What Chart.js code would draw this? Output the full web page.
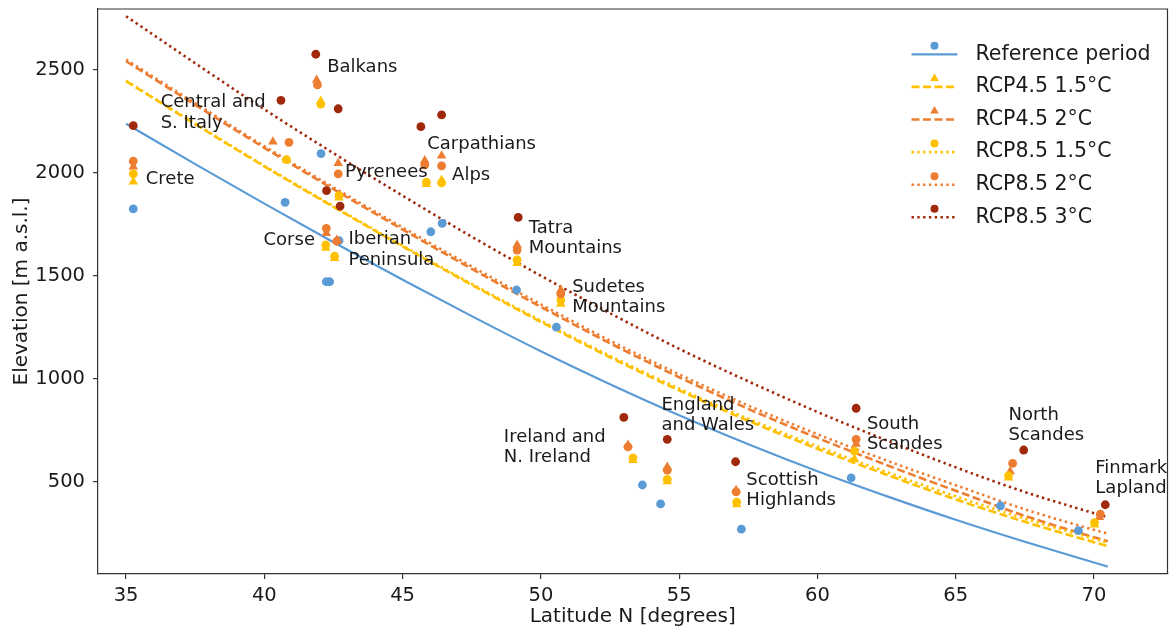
<!DOCTYPE html>
<html><head><meta charset="utf-8">
<script src="https://cdn.jsdelivr.net/npm/chart.js@4.4.0/dist/chart.umd.min.js"></script>
<style>html,body{margin:0;padding:0;background:#fff;}</style>
</head><body>
<canvas id="c" width="1173" height="632"></canvas>
<script>
// ---------------- DATA ----------------
const seriesNames = ['Reference period','RCP4.5 1.5°C','RCP4.5 2°C','RCP8.5 1.5°C','RCP8.5 2°C','RCP8.5 3°C'];
const regions = ['Crete','Central and S. Italy','Balkans','Pyrenees','Corse','Iberian Peninsula','Alps','Carpathians',
  'Tatra Mountains','Sudetes Mountains','Ireland and N. Ireland','England and Wales','Scottish Highlands',
  'South Scandes','North Scandes','Finmark Lapland'];

// region points (latitude, elevation) per series
const latRef    = [35.26,40.75,42.05,42.70,42.24,42.36,46.43,46.02,49.12,50.56,53.67,54.33,57.25,61.22,66.62,69.44];
const elevRef   = [1825,1857,2094,1671,1471,1471,1755,1714,1431,1250,483,391,268,518,382,261];
const lat45_15  = [35.26,40.80,42.04,42.70,42.22,42.54,46.41,45.86,49.14,50.72,53.33,54.57,57.08,61.34,66.91,70.02];
const elev45_15 = [1957,2063,2350,1880,1635,1585,1965,1945,1561,1363,603,500,388,608,518,290];
const lat45_20  = [35.26,40.31,41.89,42.67,42.24,42.62,46.41,45.80,49.14,50.72,53.15,54.57,57.06,61.40,66.97,70.20];
const elev45_20 = [2030,2152,2452,2047,1707,1674,2083,2060,1650,1431,677,570,458,682,548,326];
const lat85_15  = [35.26,40.80,42.04,42.70,42.22,42.54,46.41,45.86,49.14,50.72,53.33,54.57,57.08,61.34,66.91,70.02];
const elev85_15 = [1995,2065,2335,1890,1650,1595,1952,1955,1577,1382,615,510,400,648,528,300];
const lat85_20  = [35.26,40.89,41.92,42.67,42.24,42.62,46.41,45.80,49.14,50.72,53.15,54.57,57.06,61.40,67.06,70.23];
const elev85_20 = [2057,2149,2428,1995,1731,1668,2034,2039,1625,1412,668,555,450,705,588,341];
const lat85_30  = [35.26,40.60,41.86,42.67,42.25,42.74,46.41,45.66,49.18,50.72,53.00,54.57,57.04,61.40,67.46,70.41];
const elev85_30 = [2230,2353,2577,2312,1914,1839,2282,2225,1784,null,812,705,596,856,653,387];

// fitted curves
const fitLat   = [35,37.5,40,42.5,45,47.5,50,52.5,55,57.5,60,62.5,65,67.5,70,70.5];
const fitRef   = [2239,2043,1851,1663,1481,1304,1133,973,822,681,550,429,314,207,106,86];
const fit45_15 = [2446,2237,2032,1835,1643,1456,1276,1104,943,795,659,533,413,304,205,186];
const fit45_20 = [2543,2331,2122,1921,1725,1534,1349,1172,1007,853,712,580,455,333,229,210];
const fit85_15 = [2448,2240,2035,1838,1647,1461,1282,1111,952,805,671,546,428,320,222,203];
const fit85_20 = [2551,2339,2130,1930,1735,1545,1361,1185,1021,869,730,602,482,365,265,247];
const fit85_30 = [2762,2533,2309,2096,1889,1690,1500,1318,1145,987,838,700,569,449,346,326];

const xTicks = [35,40,45,50,55,60,65,70];
const yTicks = [500,1000,1500,2000,2500];

// region label text (lines)
const regionLabelLines = [['Crete'],['Central and','S. Italy'],['Balkans'],['Pyrenees'],['Corse'],['Iberian','Peninsula'],
  ['Alps'],['Carpathians'],['Tatra','Mountains'],['Sudetes','Mountains'],['Ireland and','N. Ireland'],['England','and Wales'],
  ['Scottish','Highlands'],['South','Scandes'],['North','Scandes'],['Finmark','Lapland']];
// label anchors (data coords of first line, left edge)
const labelAnchorLat  = [35.71,36.25,42.27,42.92,39.97,43.04,46.79,45.89,49.56,51.13,48.66,54.36,57.43,61.79,66.91,70.05];
const labelAnchorElev = [1971,2343,2513,2002,1674,1676,1990,2141,1732,1446,716,872,507,780,823,566];

// ---------------- STYLE ----------------
const FONT = '"DejaVu Sans", "Liberation Sans", sans-serif';
const TXT = '#1a1a1a';
const styles = [
  {color:'#5B9BD5', dash:[], marker:'circle', w:2.2},
  {color:'#FFC000', dash:[8,3.5], marker:'triangle', w:2.6},
  {color:'#ED7D31', dash:[8,3.5], marker:'triangle', w:2.6},
  {color:'#FFC000', dash:[2.4,3.4], marker:'circle', w:2.6},
  {color:'#ED7D31', dash:[2.4,3.4], marker:'circle', w:2.6},
  {color:'#A0290B', dash:[2.4,3.4], marker:'circle', w:2.6}
];
const pointSets = [[latRef,elevRef],[lat45_15,elev45_15],[lat45_20,elev45_20],[lat85_15,elev85_15],[lat85_20,elev85_20],[lat85_30,elev85_30]];
const fitSets = [fitRef,fit45_15,fit45_20,fit85_15,fit85_20,fit85_30];

const toXY = (xs, ys) => xs.map((x,i)=>({x:x, y:ys[i]})).filter(p=>p.y!==null);

const datasets = [];
fitSets.forEach((f,i)=>{
  datasets.push({
    label: seriesNames[i] + ' fit',
    data: toXY(fitLat, f),
    showLine: true, pointRadius: 0, borderColor: styles[i].color, borderWidth: styles[i].w,
    borderDash: styles[i].dash, borderCapStyle:'butt', cubicInterpolationMode:'monotone',
    fill:false, order: 40 - i
  });
});
pointSets.forEach((p,i)=>{
  const tri = styles[i].marker === 'triangle';
  datasets.push({
    label: seriesNames[i],
    data: toXY(p[0], p[1]),
    showLine: false, pointStyle: styles[i].marker, pointRadius: tri ? 5.5 : 4.4,
    backgroundColor: styles[i].color, borderColor: styles[i].color, pointBorderWidth: 0,
    order: 20 - i
  });
});

const framePlugin = {
  id:'frame',
  afterDraw(chart){
    const a = chart.chartArea, ctx = chart.ctx;
    ctx.save(); ctx.strokeStyle='#333'; ctx.lineWidth=1.2;
    ctx.beginPath(); ctx.moveTo(a.left, a.top); ctx.lineTo(a.right, a.top); ctx.lineTo(a.right, a.bottom); ctx.stroke();
    ctx.restore();
  }
};
const labelPlugin = {
  id:'regionLabels',
  afterDatasetsDraw(chart){
    const ctx = chart.ctx, xs = chart.scales.x, ys = chart.scales.y;
    ctx.save(); ctx.font = '18px ' + FONT; ctx.fillStyle = TXT; ctx.textBaseline='middle'; ctx.textAlign='left';
    regionLabelLines.forEach((lines,i)=>{
      const px = xs.getPixelForValue(labelAnchorLat[i]);
      const py = ys.getPixelForValue(labelAnchorElev[i]);
      lines.forEach((t,k)=>ctx.fillText(t, px, py + k*20.5));
    });
    ctx.restore();
  }
};
const legendPlugin = {
  id:'legendBox',
  afterDraw(chart){
    const ctx = chart.ctx, a = chart.chartArea;
    const x0 = a.right - 256, x1 = a.right - 210, tx = a.right - 192, y0 = a.top + 45.3, dy = 32.6;
    styles.forEach((s,i)=>{
      const y = y0 + i*dy;
      ctx.save();
      ctx.strokeStyle = s.color; ctx.lineWidth = s.w; ctx.lineCap='butt'; ctx.setLineDash(s.dash);
      ctx.beginPath(); ctx.moveTo(x0,y); ctx.lineTo(x1,y); ctx.stroke();
      ctx.setLineDash([]);
      ctx.fillStyle = s.color;
      Chart.helpers.drawPoint(ctx, {pointStyle:s.marker, radius: s.marker==='triangle'?5:4, rotation:0, borderWidth:0}, (x0+x1)/2, y-8.5);
      ctx.font = '20.5px ' + FONT; ctx.fillStyle = TXT; ctx.textBaseline='middle'; ctx.textAlign='left';
      ctx.fillText(seriesNames[i], tx, y);
      ctx.restore();
    });
  }
};

new Chart(document.getElementById('c'), {
  type:'scatter',
  data:{datasets},
  options:{
    responsive:false, animation:false, devicePixelRatio:1,
    layout:{padding:{left:0,right:2,top:9,bottom:0}},
    plugins:{legend:{display:false}, tooltip:{enabled:false}},
    scales:{
      x:{type:'linear', min:33.984, max:72.66,
        afterBuildTicks: s => { s.ticks = xTicks.map(v=>({value:v})); },
        afterFit: s => { s.height = 58; s.paddingLeft = 0; s.paddingRight = 0; s.paddingTop = 0; s.paddingBottom = 0; },
        ticks:{font:{family:FONT,size:19.5}, color:TXT, padding:5, maxRotation:0, callback: v => String(v)},
        grid:{display:true, drawOnChartArea:false, drawTicks:true, tickLength:5, tickColor:'#333', lineWidth:1.2},
        border:{display:true, color:'#333', width:1.2},
        title:{display:true, text:'Latitude N [degrees]', font:{family:FONT,size:20}, color:TXT, padding:{top:0,bottom:3}}
      },
      y:{type:'linear', min:50.3, max:2797,
        afterBuildTicks: s => { s.ticks = yTicks.map(v=>({value:v})); },
        afterFit: s => { s.width = 98; s.paddingLeft = 0; s.paddingRight = 0; s.paddingTop = 0; s.paddingBottom = 0; },
        ticks:{font:{family:FONT,size:19.5}, color:TXT, padding:8, callback: v => String(v)},
        grid:{display:true, drawOnChartArea:false, drawTicks:true, tickLength:5, tickColor:'#333', lineWidth:1.2},
        border:{display:true, color:'#333', width:1.2},
        title:{display:true, text:'Elevation [m a.s.l.]', font:{family:FONT,size:20}, color:TXT, padding:{top:10,bottom:0}}
      }
    }
  },
  plugins:[framePlugin, labelPlugin, legendPlugin]
});
</script>
</body></html>
